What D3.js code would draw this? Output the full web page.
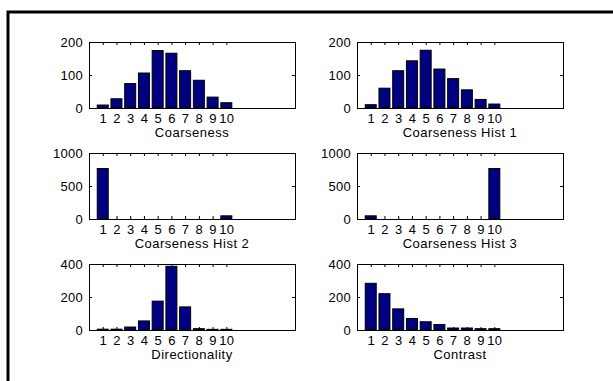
<!DOCTYPE html>
<html>
<head>
<meta charset="utf-8">
<script src="https://cdn.jsdelivr.net/npm/d3@7"></script>
<style>
  html, body { margin: 0; padding: 0; background: #fff; }
  svg { display: block; }
  text { font-family: Arial, "Liberation Sans", Helvetica, sans-serif; fill: #000; }
</style>
</head>
<body>
<svg id="fig" width="613" height="381"></svg>
<script>
// Bin indices shared by every histogram
const bins = [1, 2, 3, 4, 5, 6, 7, 8, 9, 10];

// Histogram counts per feature
const coarseness      = [9, 28, 74, 106, 174, 166, 113, 84, 33, 16];
const coarsenessHist1 = [10, 60, 113, 143, 175, 118, 89, 55, 26, 12];
const coarsenessHist2 = [765, 0, 0, 0, 0, 0, 0, 0, 0, 48];
const coarsenessHist3 = [48, 0, 0, 0, 0, 0, 0, 0, 0, 765];
const directionality  = [5, 5, 18, 55, 175, 386, 140, 8, 4, 4];
const contrast        = [283, 220, 128, 70, 50, 33, 12, 12, 8, 8];

// Panel titles and y tick values
const titles = ["Coarseness", "Coarseness Hist 1", "Coarseness Hist 2",
                "Coarseness Hist 3", "Directionality", "Contrast"];
const seriesList = [coarseness, coarsenessHist1, coarsenessHist2,
                    coarsenessHist3, directionality, contrast];
const yTickSets = [[0, 100, 200], [0, 100, 200], [0, 500, 1000],
                   [0, 500, 1000], [0, 200, 400], [0, 200, 400]];
const xDomain = [0, 15];

const svg = d3.select("#fig");

// Outer frame (runs off the right and bottom edges)
svg.append("path")
  .attr("d", "M8,381 L8,12 L613,12")
  .attr("fill", "none")
  .attr("stroke", "#000")
  .attr("stroke-width", 3);

const axW = 206, axH = 66;
const colX = [89, 357];
const rowY = [42, 153, 264];
const tickLen = 3;

seriesList.forEach((vals, i) => {
  const left = colX[i % 2];
  const top = rowY[Math.floor(i / 2)];
  const yTicks = yTickSets[i];

  const x = d3.scaleLinear().domain(xDomain).range([0, axW]);
  const y = d3.scaleLinear().domain([yTicks[0], yTicks[yTicks.length - 1]]).range([axH, 0]);

  const g = svg.append("g").attr("transform", `translate(${left},${top})`);

  // Bars, width 0.8 of a bin
  const bw = x(0.8) - x(0);
  g.selectAll("rect.bar")
    .data(bins.map((b, k) => ({ b, v: vals[k] })))
    .join("rect")
    .attr("class", "bar")
    .attr("x", d => x(d.b) - bw / 2)
    .attr("y", d => y(d.v))
    .attr("width", bw)
    .attr("height", d => y(0) - y(d.v))
    .attr("fill", "#000080")
    .attr("stroke", "#000")
    .attr("stroke-width", 1);

  const styleAxis = sel => {
    sel.selectAll("path.domain").remove();
    sel.selectAll("line").attr("stroke", "#000");
    sel.selectAll("text")
      .style("font-size", "13px")
      .style("letter-spacing", "0.3px")
      .attr("fill", "#000");
  };

  // Bottom axis with inward ticks
  g.append("g")
    .attr("transform", `translate(0,${axH})`)
    .call(d3.axisBottom(x).tickValues(bins).tickFormat(d3.format("d"))
      .tickSizeInner(-tickLen).tickSizeOuter(0).tickPadding(6))
    .call(styleAxis);

  // Top axis: marks only
  g.append("g")
    .call(d3.axisTop(x).tickValues(bins).tickFormat("")
      .tickSizeInner(-tickLen).tickSizeOuter(0))
    .call(styleAxis);

  // Left axis with inward ticks
  g.append("g")
    .call(d3.axisLeft(y).tickValues(yTicks).tickFormat(d3.format("d"))
      .tickSizeInner(-tickLen).tickSizeOuter(0).tickPadding(6))
    .call(styleAxis);

  // Right axis: marks only
  g.append("g")
    .attr("transform", `translate(${axW},0)`)
    .call(d3.axisRight(y).tickValues(yTicks).tickFormat("")
      .tickSizeInner(-tickLen).tickSizeOuter(0))
    .call(styleAxis);

  // Axes box
  g.append("rect")
    .attr("x", 0.5).attr("y", 0.5)
    .attr("width", axW).attr("height", axH)
    .attr("fill", "none")
    .attr("stroke", "#000")
    .attr("stroke-width", 1);

  // X label
  g.append("text")
    .attr("x", axW / 2)
    .attr("y", axH + 29)
    .attr("text-anchor", "middle")
    .style("font-size", "13px")
    .style("letter-spacing", "0.5px")
    .text(titles[i]);
});
</script>
</body>
</html>
